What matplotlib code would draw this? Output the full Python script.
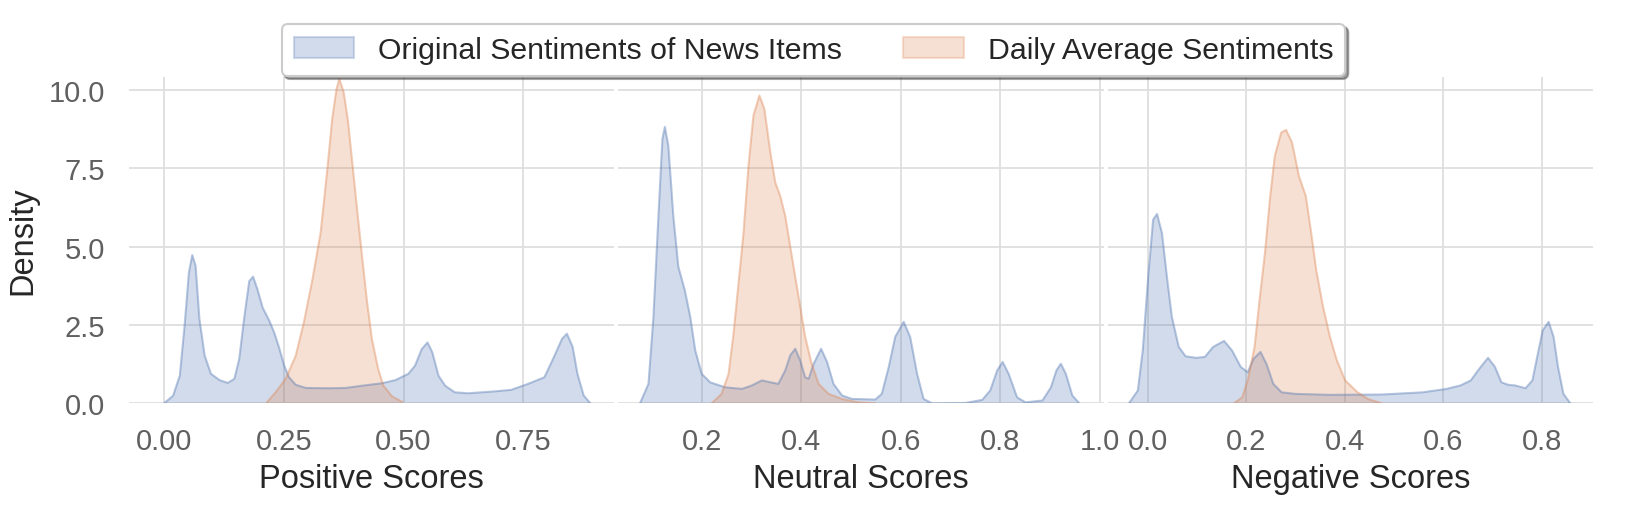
import matplotlib.pyplot as plt
from matplotlib.patches import Patch

# Density curves (x, density) for each score type.
pos_orig_x = [0.0, 0.019, 0.033, 0.043, 0.052, 0.059, 0.066, 0.074, 0.085, 0.098, 0.116,
              0.133, 0.147, 0.157, 0.168, 0.178, 0.186, 0.195, 0.206, 0.22, 0.23, 0.24,
              0.251, 0.261, 0.275, 0.296, 0.344, 0.379, 0.413, 0.455, 0.483, 0.51, 0.524,
              0.538, 0.55, 0.56, 0.573, 0.587, 0.607, 0.635, 0.69, 0.725, 0.76, 0.794,
              0.814, 0.831, 0.841, 0.853, 0.863, 0.876, 0.89]
pos_orig_y = [0.0, 0.24, 0.88, 2.47, 4.17, 4.73, 4.39, 2.69, 1.52, 0.94, 0.74,
              0.65, 0.78, 1.41, 2.79, 3.9, 4.04, 3.64, 3.05, 2.63, 2.26, 1.79,
              1.2, 0.83, 0.59, 0.49, 0.48, 0.49, 0.56, 0.64, 0.74, 0.94, 1.2,
              1.73, 1.94, 1.63, 0.88, 0.56, 0.35, 0.32, 0.38, 0.43, 0.62, 0.83,
              1.48, 2.06, 2.22, 1.8, 0.94, 0.25, 0.0]
pos_avg_x = [0.213, 0.233, 0.254, 0.275, 0.292, 0.31, 0.327, 0.341, 0.351, 0.36, 0.366,
             0.375, 0.384, 0.393, 0.403, 0.414, 0.424, 0.434, 0.447, 0.458, 0.476, 0.497]
pos_avg_y = [0.0, 0.35, 0.78, 1.52, 2.58, 3.96, 5.45, 7.47, 9.06, 10.02, 10.35,
             9.93, 9.02, 7.69, 6.2, 4.61, 3.22, 2.05, 1.1, 0.56, 0.22, 0.05]

neu_orig_x = [0.076, 0.093, 0.103, 0.113, 0.121, 0.126, 0.133, 0.143, 0.153, 0.166, 0.177,
              0.187, 0.2, 0.217, 0.247, 0.281, 0.301, 0.321, 0.338, 0.354, 0.368, 0.378,
              0.388, 0.398, 0.408, 0.415, 0.425, 0.44, 0.452, 0.465, 0.482, 0.502, 0.549,
              0.562, 0.576, 0.589, 0.606, 0.619, 0.633, 0.646, 0.663, 0.73, 0.764, 0.78,
              0.794, 0.805, 0.817, 0.834, 0.851, 0.885, 0.902, 0.913, 0.922, 0.932, 0.945,
              0.959]
neu_orig_y = [0.0, 0.62, 2.76, 5.97, 8.43, 8.82, 8.21, 5.97, 4.36, 3.61, 2.76,
              1.69, 0.94, 0.67, 0.51, 0.46, 0.57, 0.73, 0.67, 0.62, 1.05, 1.53,
              1.74, 1.37, 0.83, 0.78, 1.26, 1.74, 1.32, 0.62, 0.25, 0.14, 0.12,
              0.3, 1.16, 2.12, 2.6, 2.12, 0.94, 0.14, 0.0, 0.01, 0.11, 0.41,
              1.05, 1.32, 0.94, 0.19, 0.03, 0.09, 0.51, 1.05, 1.26, 0.94, 0.25,
              0.0]
neu_avg_x = [0.22, 0.24, 0.254, 0.264, 0.274, 0.284, 0.294, 0.304, 0.316, 0.326, 0.338,
             0.348, 0.358, 0.368, 0.378, 0.388, 0.398, 0.408, 0.421, 0.435, 0.455, 0.482,
             0.515, 0.549]
neu_avg_y = [0.0, 0.3, 0.94, 2.22, 3.83, 5.43, 7.57, 9.18, 9.82, 9.39, 8.0,
             7.04, 6.61, 5.97, 5.0, 4.04, 3.08, 2.12, 1.26, 0.62, 0.3, 0.14,
             0.03, 0.0]

neg_orig_x = [-0.038, -0.02, -0.01, 0.001, 0.011, 0.019, 0.029, 0.039, 0.049, 0.063, 0.077,
              0.098, 0.116, 0.133, 0.155, 0.171, 0.189, 0.203, 0.215, 0.229, 0.241, 0.255,
              0.272, 0.3, 0.37, 0.475, 0.558, 0.607, 0.635, 0.656, 0.673, 0.691, 0.705,
              0.718, 0.732, 0.746, 0.767, 0.781, 0.792, 0.802, 0.814, 0.824, 0.833, 0.844,
              0.858]
neg_orig_y = [0.0, 0.41, 1.69, 4.04, 5.86, 6.04, 5.43, 4.04, 2.76, 1.8, 1.5,
              1.45, 1.48, 1.8, 1.99, 1.69, 1.16, 0.99, 1.42, 1.64, 1.26, 0.62,
              0.35, 0.3, 0.27, 0.28, 0.35, 0.46, 0.57, 0.73, 1.1, 1.45, 1.16,
              0.67, 0.59, 0.57, 0.48, 0.73, 1.58, 2.33, 2.6, 2.12, 1.16, 0.3,
              0.0]
neg_avg_x = [0.175, 0.192, 0.203, 0.217, 0.227, 0.238, 0.248, 0.258, 0.271, 0.281, 0.293,
             0.307, 0.321, 0.332, 0.342, 0.356, 0.37, 0.384, 0.401, 0.426, 0.447, 0.475]
neg_avg_y = [0.0, 0.19, 0.73, 1.8, 3.29, 4.79, 6.5, 7.89, 8.64, 8.72, 8.32,
             7.25, 6.61, 5.43, 4.26, 3.08, 2.12, 1.37, 0.73, 0.35, 0.14, 0.0]

panel_labels = ["Positive Scores", "Neutral Scores", "Negative Scores"]
legend_labels = ["Original Sentiments of News Items", "Daily Average Sentiments"]
panel_xlims = [(-0.073, 0.94), (0.0324, 1.008), (-0.0813, 0.904)]
panel_xticks = [[0.0, 0.25, 0.5, 0.75], [0.2, 0.4, 0.6, 0.8, 1.0],
                [0.0, 0.2, 0.4, 0.6, 0.8]]
panel_xticklabels = [["0.00", "0.25", "0.50", "0.75"], ["0.2", "0.4", "0.6", "0.8", "1.0"],
                     ["0.0", "0.2", "0.4", "0.6", "0.8"]]
yticks = [0.0, 2.5, 5.0, 7.5, 10.0]

BLUE = "#4C72B0"
ORANGE = "#DD8452"

plt.rcParams["font.family"] = ["Liberation Sans", "DejaVu Sans"]

curves = [
    (pos_orig_x, pos_orig_y, pos_avg_x, pos_avg_y),
    (neu_orig_x, neu_orig_y, neu_avg_x, neu_avg_y),
    (neg_orig_x, neg_orig_y, neg_avg_x, neg_avg_y),
]

fig, axes = plt.subplots(1, 3, figsize=(16.27, 5.06), dpi=100, sharey=True)
fig.subplots_adjust(left=129 / 1627, right=1593 / 1627, top=1 - 78 / 506,
                    bottom=1 - 404.3 / 506, wspace=0.0082)

for i, ax in enumerate(axes):
    ox, oy, ax_, ay = curves[i]
    ax.fill_between(ox, oy, facecolor=BLUE, alpha=0.25, lw=0)
    ax.plot(ox, oy, color=BLUE, alpha=0.4, lw=1.5)
    ax.fill_between(ax_, ay, facecolor=ORANGE, alpha=0.25, lw=0)
    ax.plot(ax_, ay, color=ORANGE, alpha=0.4, lw=1.5)

    ax.set_xlim(*panel_xlims[i])
    ax.set_ylim(0, 10.41)
    ax.set_xticks(panel_xticks[i])
    ax.set_xticklabels(panel_xticklabels[i])
    ax.set_yticks(yticks)
    ax.set_xlabel(panel_labels[i], fontsize=23.5, color="#262626", labelpad=6)
    ax.grid(True, color="#dedede", lw=1.3)
    ax.set_axisbelow(True)
    for s in ax.spines.values():
        s.set_visible(False)
    ax.tick_params(axis="both", length=0, labelsize=21, labelcolor="#606060")
    ax.tick_params(axis="x", pad=17)
    ax.tick_params(axis="y", pad=17)

axes[0].set_ylabel("Density", fontsize=23.5, color="#262626", labelpad=8)

handles = [
    Patch(facecolor=BLUE, edgecolor=BLUE, alpha=0.25, lw=1.5),
    Patch(facecolor=ORANGE, edgecolor=ORANGE, alpha=0.25, lw=1.5),
]
leg = fig.legend(handles, legend_labels, loc="upper center",
                 bbox_to_anchor=(0.5, 1 - 25 / 506), ncol=2, fontsize=21.8,
                 frameon=True, shadow=True, fancybox=True, borderaxespad=0)
leg.get_frame().set_edgecolor("#cccccc")
leg.get_frame().set_linewidth(1.5)
for t in leg.get_texts():
    t.set_color("#262626")

plt.savefig("out.png", dpi=100)
plt.close()
